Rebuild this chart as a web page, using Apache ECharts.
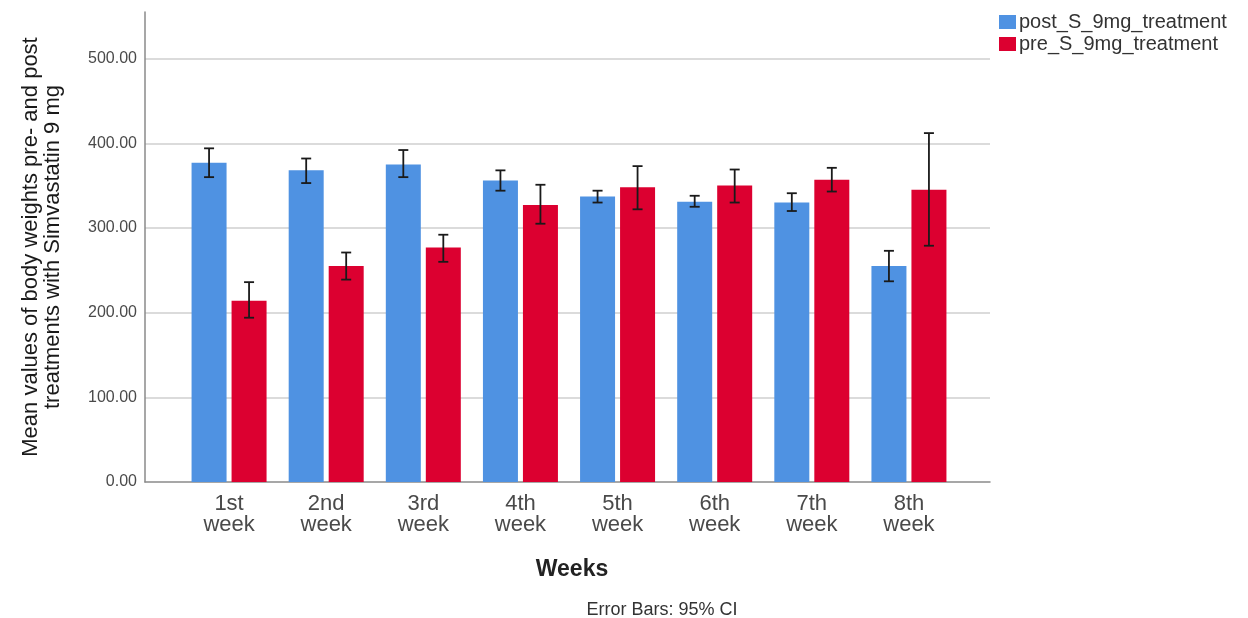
<!DOCTYPE html>
<html>
<head>
<meta charset="utf-8">
<script src="https://cdn.jsdelivr.net/npm/echarts@6/dist/echarts.min.js"></script>
<style>html,body{margin:0;padding:0;background:#fff}#c{width:1248px;height:618px}</style>
</head>
<body>
<div id="c"></div>
<script>
const categories = ["1st\nweek", "2nd\nweek", "3rd\nweek", "4th\nweek", "5th\nweek", "6th\nweek", "7th\nweek", "8th\nweek"];
const seriesNames = ["post_S_9mg_treatment", "pre_S_9mg_treatment"];
const postMean = [377, 368, 375, 356, 337, 331, 330, 255];
const postLow  = [360, 353, 360, 344, 330, 325, 320, 237];
const postHigh = [394, 382, 392, 368, 344, 338, 341, 273];
const preMean  = [214, 255, 277, 327, 348, 350, 357, 345];
const preLow   = [194, 239, 260, 305, 322, 330, 343, 279];
const preHigh  = [236, 271, 292, 351, 373, 369, 371, 412];
const yTicks = [0, 100, 200, 300, 400, 500];

const BLUE = '#4f92e2', RED = '#dc0030';
const FONT = 'Liberation Sans, Arial, sans-serif';
const BAR_W = 35, BAR_GAP = 5;
const YMAX = 555;

function errSeries(name, low, high, dir) {
  return {
    type: 'custom', name: name + '_err', xAxisIndex: 1, yAxisIndex: 1, z: 10,
    silent: true,
    data: low.map((l, i) => [i, l, high[i]]),
    renderItem: function (params, api) {
      const off = dir * (BAR_W + BAR_GAP) / 2;
      const pTop = api.coord([api.value(0), api.value(2)]);
      const pBot = api.coord([api.value(0), api.value(1)]);
      const x = pTop[0] + off;
      const cap = 5;
      const st = { stroke: '#1a1a1a', lineWidth: 1.8 };
      return {
        type: 'group',
        children: [
          { type: 'line', shape: { x1: x, y1: pTop[1], x2: x, y2: pBot[1] }, style: st },
          { type: 'line', shape: { x1: x - cap, y1: pTop[1], x2: x + cap, y2: pTop[1] }, style: st },
          { type: 'line', shape: { x1: x - cap, y1: pBot[1], x2: x + cap, y2: pBot[1] }, style: st }
        ]
      };
    }
  };
}

const chart = echarts.init(document.getElementById('c'), null, { renderer: 'canvas' });
chart.setOption({
  backgroundColor: '#fff',
  animation: false,
  textStyle: { fontFamily: FONT },
  title: [
    { text: 'Weeks', left: 567, top: 553, textAlign: 'center',
      textStyle: { fontSize: 23, fontWeight: 'bold', color: '#222', fontFamily: FONT } },
    { text: 'Error Bars: 95% CI', left: 657, top: 596, textAlign: 'center',
      textStyle: { fontSize: 18, fontWeight: 'normal', color: '#333', fontFamily: FONT } }
  ],
  legend: {
    data: seriesNames, orient: 'vertical', left: 994, top: 7,
    icon: 'rect', itemWidth: 17, itemHeight: 14, itemGap: 2,
    textStyle: { fontSize: 20, color: '#333', fontFamily: FONT, padding: [0, 0, 0, -2] }
  },
  grid: [
    { left: 145, right: 258, top: 12, bottom: 136 },
    { left: 180.5, right: 290.5, top: 12, bottom: 136 }
  ],
  xAxis: [
    { type: 'value', gridIndex: 0, min: 0, max: 1,
      axisLine: { show: true, lineStyle: { color: '#8a8a8a', width: 1.5 } },
      axisTick: { show: false }, axisLabel: { show: false }, splitLine: { show: false } },
    { type: 'category', gridIndex: 1, data: categories,
      axisLine: { show: false }, axisTick: { show: false },
      axisLabel: { fontSize: 22, lineHeight: 21, color: '#4a4a4a', margin: 11, fontFamily: FONT } }
  ],
  yAxis: [
    { type: 'value', gridIndex: 0, min: 0, max: YMAX, interval: 100,
      name: 'Mean values of body weights pre- and post\ntreatments with Simvastatin 9 mg',
      nameLocation: 'middle', nameGap: 81, nameRotate: 90,
      nameTextStyle: { fontSize: 22, lineHeight: 22, color: '#1a1a1a', fontFamily: FONT },
      axisLine: { show: true, lineStyle: { color: '#8a8a8a', width: 1.5 } },
      axisTick: { show: false },
      axisLabel: { showMaxLabel: false, fontSize: 16, color: '#4a4a4a', margin: 8, fontFamily: FONT,
        formatter: v => yTicks.indexOf(v) >= 0 ? v.toFixed(2) : '' },
      splitLine: { show: true, lineStyle: { width: 1.5,
        color: ['rgba(0,0,0,0)', '#cfcfcf', '#cfcfcf', '#cfcfcf', '#cfcfcf', '#cfcfcf', 'rgba(0,0,0,0)'] } } },
    { type: 'value', gridIndex: 1, min: 0, max: YMAX, interval: 100, show: false,
      splitLine: { show: false } }
  ],
  series: [
    { name: seriesNames[0], type: 'bar', xAxisIndex: 1, yAxisIndex: 1, data: postMean,
      barWidth: BAR_W, barGap: (BAR_GAP / BAR_W * 100) + '%', itemStyle: { color: BLUE } },
    { name: seriesNames[1], type: 'bar', xAxisIndex: 1, yAxisIndex: 1, data: preMean,
      barWidth: BAR_W, itemStyle: { color: RED } },
    errSeries(seriesNames[0], postLow, postHigh, -1),
    errSeries(seriesNames[1], preLow, preHigh, 1)
  ]
});
</script>
</body>
</html>
